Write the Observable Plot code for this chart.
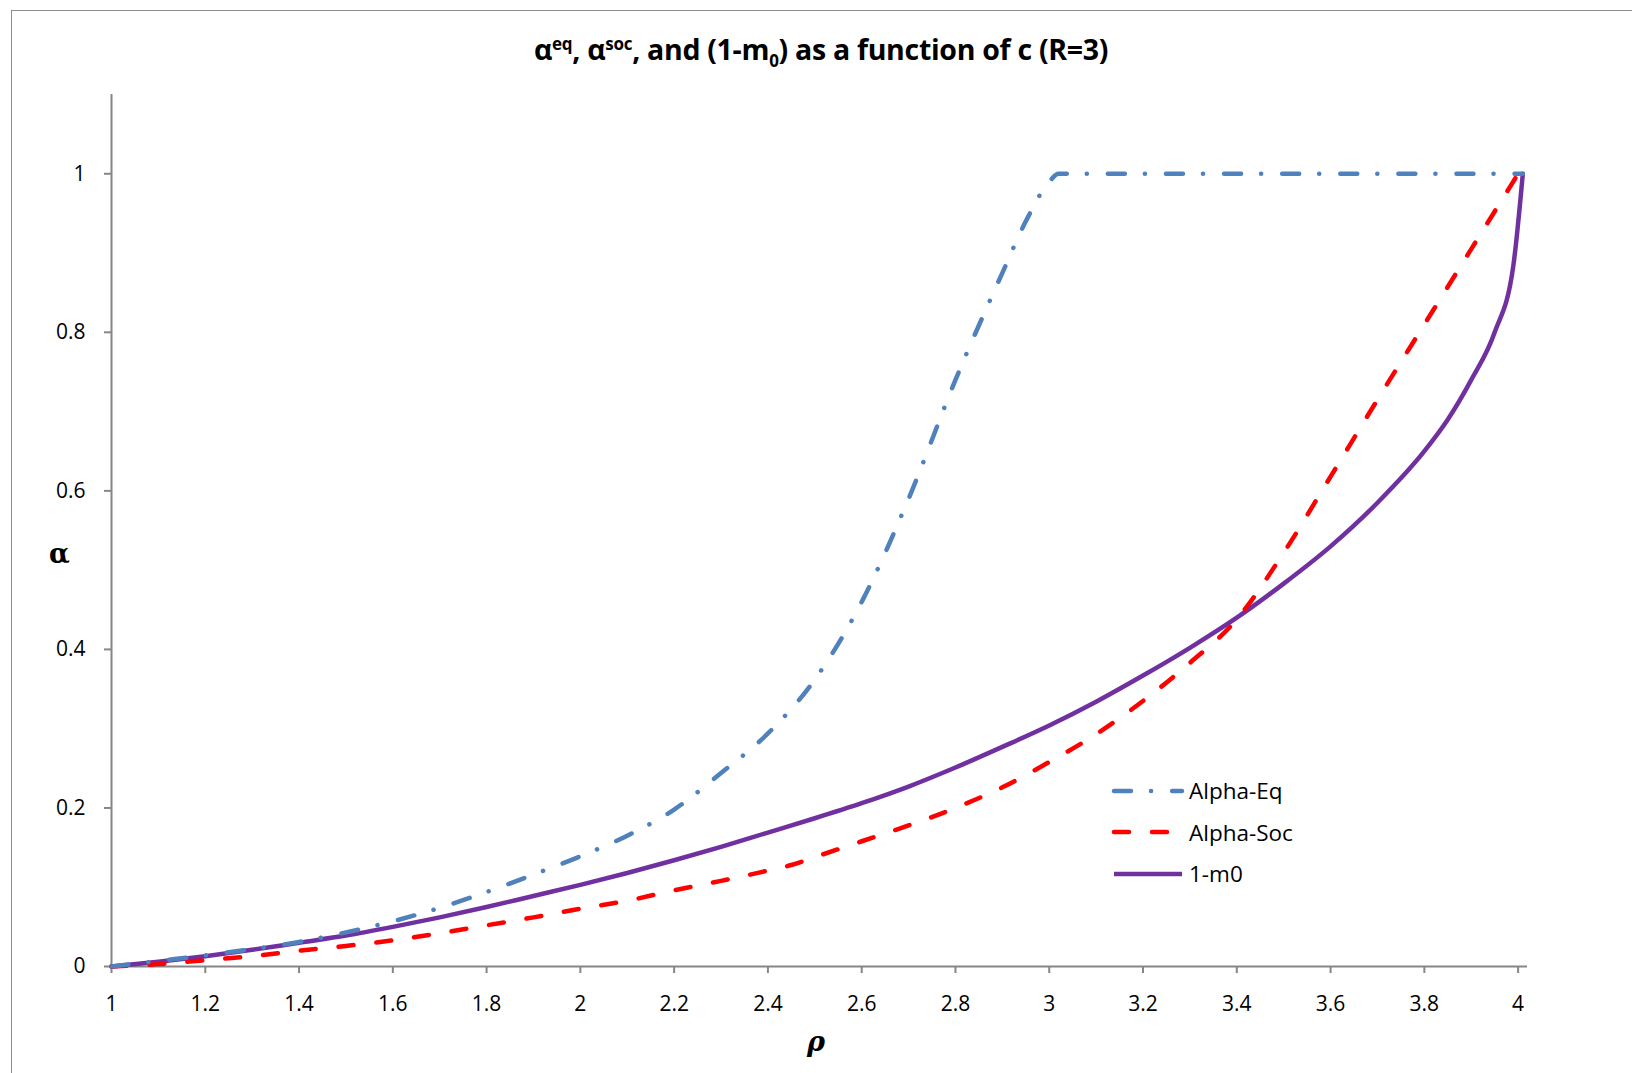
<!DOCTYPE html>
<html>
<head>
<meta charset="utf-8">
<script src="https://cdn.jsdelivr.net/npm/d3@7"></script>
<script src="https://cdn.jsdelivr.net/npm/@observablehq/plot@0.6"></script>
<style>
  html, body { margin: 0; padding: 0; background: #fff; overflow: hidden; }
  #page { position: relative; width: 1632px; height: 1073px; overflow: hidden; font-family: "Open Sans", "Noto Sans", sans-serif; }
  #frame { position: absolute; left: 11px; top: 10px; width: 1700px; height: 1200px; border: 1.5px solid #8c8c8c; box-sizing: border-box; }
  #title { position: absolute; left: 0; width: 1642px; top: 30px; text-align: center; font-weight: 700; font-size: 28.5px; color: #000; letter-spacing: -0.3px; }
  #title sup, #title sub { font-size: 17px; }
  #chart { position: absolute; left: 0; top: 0; }
  #ylab { position: absolute; left: 49px; top: 538px; font-family: "DejaVu Serif", serif; font-size: 27px; font-weight: 700; }
  #xlab { position: absolute; left: 807px; top: 1026px; font-family: "DejaVu Serif", serif; font-style: italic; font-weight: 700; font-size: 27px; }
  #legend { position: absolute; left: 1105px; top: 770px; font-size: 22.5px; }
  #legend .row { display: flex; align-items: center; height: 41.5px; }
  #legend .row span { margin-left: 4px; }
</style>
</head>
<body>
<div id="page">
  <div id="frame"></div>
  <div id="chart"></div>
  <div id="title">α<sup>eq</sup>, α<sup>soc</sup>, and (1-m<sub>0</sub>) as a function of c (R=3)</div>
  <div id="ylab">α</div>
  <div id="xlab">ρ</div>
  <div id="legend"></div>
</div>
<script>
// ---- data ----
const xEq     = [1.0, 1.1, 1.2, 1.3, 1.4, 1.5, 1.6, 1.7, 1.8, 1.9, 2.0, 2.1, 2.2, 2.3, 2.4, 2.5, 2.6, 2.7, 2.8, 2.9, 2.95, 3.0, 3.02, 4.01];
const alphaEq = [0, 0.007, 0.014, 0.022, 0.031, 0.043, 0.057, 0.074, 0.094, 0.116, 0.139, 0.165, 0.198, 0.244, 0.294, 0.362, 0.46, 0.59, 0.74, 0.875, 0.94, 0.99, 1.0, 1.0];

const xSoc     = [1.0, 1.1, 1.2, 1.3, 1.4, 1.5, 1.6, 1.7, 1.8, 1.9, 2.0, 2.1, 2.2, 2.3, 2.4, 2.45, 2.5, 2.6, 2.7, 2.8, 2.9, 3.0, 3.1, 3.2, 3.3, 3.4, 3.5, 3.6, 3.7, 3.8, 3.9, 4.0];
const alphaSoc = [0, 0.003, 0.008, 0.013, 0.02, 0.026, 0.033, 0.042, 0.052, 0.062, 0.073, 0.083, 0.096, 0.108, 0.121, 0.128, 0.138, 0.158, 0.178, 0.2, 0.226, 0.258, 0.293, 0.335, 0.383, 0.438, 0.522, 0.618, 0.715, 0.81, 0.905, 1.0];

const xM0  = [1.0, 1.1, 1.2, 1.3, 1.4, 1.5, 1.6, 1.7, 1.8, 1.9, 2.0, 2.1, 2.2, 2.3, 2.4, 2.5, 2.6, 2.7, 2.8, 2.9, 3.0, 3.1, 3.2, 3.3, 3.4, 3.5, 3.6, 3.7, 3.8, 3.85, 3.9, 3.95, 3.99, 4.01];
const oneM0 = [0, 0.006, 0.013, 0.021, 0.030, 0.039, 0.050, 0.062, 0.075, 0.089, 0.103, 0.118, 0.134, 0.151, 0.169, 0.187, 0.206, 0.227, 0.251, 0.277, 0.304, 0.334, 0.367, 0.402, 0.44, 0.483, 0.53, 0.585, 0.65, 0.69, 0.74, 0.80, 0.885, 1.0];

const xTicks = [1, 1.2, 1.4, 1.6, 1.8, 2, 2.2, 2.4, 2.6, 2.8, 3, 3.2, 3.4, 3.6, 3.8, 4];
const yTicks = [0, 0.2, 0.4, 0.6, 0.8, 1];
const seriesNames = ["Alpha-Eq", "Alpha-Soc", "1-m0"];
const seriesColors = ["#4F81BD", "#FF0000", "#7030A0"];
const seriesDash = ["17,20,0.1,21", "15,23", null];

const eqData = xEq.map((x, i) => ({x, y: alphaEq[i]}));
const socData = xSoc.map((x, i) => ({x, y: alphaSoc[i]}));
const m0Data = xM0.map((x, i) => ({x, y: oneM0[i]}));

const fmt = d => String(+d.toFixed(1));
const axisColor = "#868686";

const chart = Plot.plot({
  width: 1632,
  height: 1073,
  marginLeft: 111,
  marginRight: 105,
  marginTop: 94,
  marginBottom: 107,
  style: {fontFamily: "'Open Sans', 'Noto Sans', sans-serif", fontSize: "21px", color: "#000", background: "transparent"},
  x: {domain: [1, 4.02]},
  y: {domain: [0, 1.1]},
  marks: [
    Plot.ruleX([1], {stroke: axisColor, strokeWidth: 2}),
    Plot.ruleY([0], {stroke: axisColor, strokeWidth: 2}),
    Plot.axisX({ticks: xTicks, tickFormat: fmt, tickSize: 7, tickPadding: 23, stroke: axisColor, strokeWidth: 2, label: null, fill: "#000", fontSize: 21}),
    Plot.axisY({ticks: yTicks, tickFormat: fmt, tickSize: 7, tickPadding: 19, stroke: axisColor, strokeWidth: 2, label: null, fill: "#000", fontSize: 21}),
    Plot.line(m0Data, {x: "x", y: "y", stroke: seriesColors[2], strokeWidth: 4.5, curve: "monotone-x"}),
    Plot.line(socData, {x: "x", y: "y", stroke: seriesColors[1], strokeWidth: 4.5, strokeDasharray: seriesDash[1], strokeLinecap: "round", curve: "monotone-x"}),
    Plot.line(eqData, {x: "x", y: "y", stroke: seriesColors[0], strokeWidth: 4.5, strokeDasharray: seriesDash[0], strokeLinecap: "round", curve: "monotone-x"})
  ]
});
document.getElementById("chart").appendChild(chart);

// legend
const legend = d3.select("#legend");
seriesNames.forEach((name, i) => {
  const row = legend.append("div").attr("class", "row");
  const svg = row.append("svg").attr("width", 80).attr("height", 12);
  svg.append("line").attr("x1", 9).attr("x2", 77).attr("y1", 6).attr("y2", 6)
    .attr("stroke", seriesColors[i]).attr("stroke-width", 4.5)
    .attr("stroke-linecap", seriesDash[i] ? "round" : "butt")
    .attr("stroke-dasharray", seriesDash[i]);
  row.append("span").text(name);
});
</script>
</body>
</html>
